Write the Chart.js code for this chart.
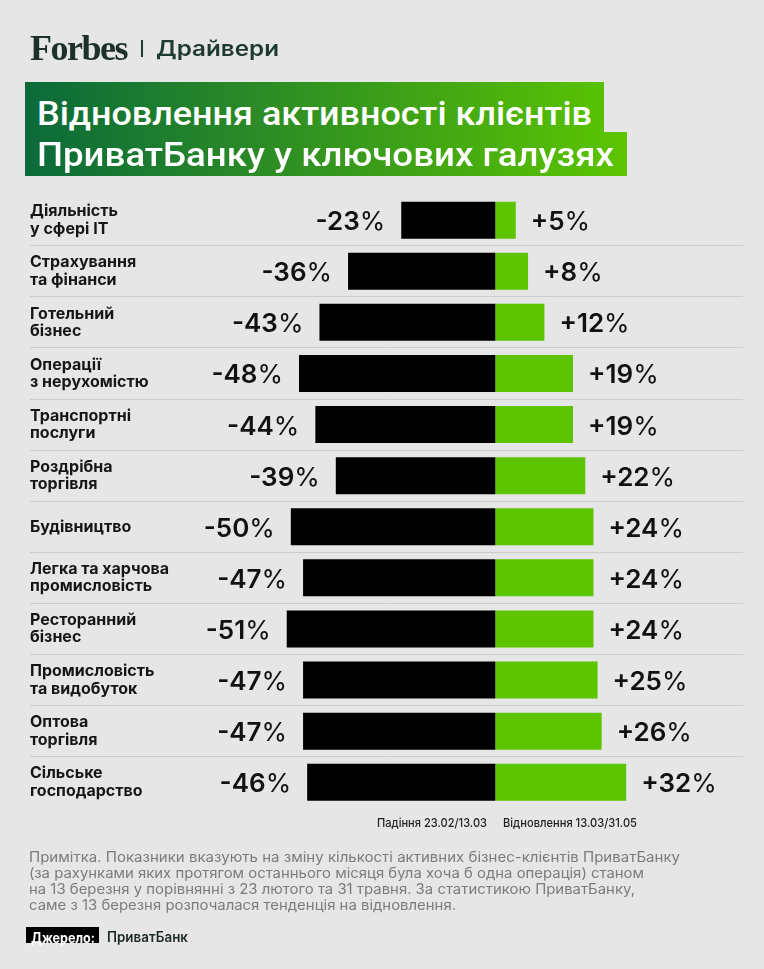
<!DOCTYPE html>
<html lang="uk">
<head>
<meta charset="utf-8">
<title>Відновлення активності клієнтів ПриватБанку</title>
<script src="https://cdn.jsdelivr.net/npm/chart.js@4.4.1/dist/chart.umd.min.js"></script>
<style>
  html, body { margin: 0; padding: 0; background: #e6e6e6; }
  #page { position: relative; width: 764px; height: 969px; overflow: hidden; background: #e6e6e6; }
  #chartBox { position: absolute; left: 0; top: 0; width: 764px; height: 969px; }
  .t { position: absolute; white-space: nowrap; line-height: 1; transform-origin: 0 0; display: inline-block; }
  .box { position: absolute; background: linear-gradient(90deg, #0b6a3a 0%, #2c8c25 40%, #5cc500 100%); background-size: 602px 100%; background-repeat: no-repeat; }
</style>
</head>
<body>
<div id="page">
  <div id="chartBox"><canvas id="bars"></canvas></div>

  <div class="t" style="left:30px;top:26.5px;font:bold 36px 'Liberation Serif';letter-spacing:-1.5px;color:#1d3128" data-w="97">Forbes</div>
  <div style="position:absolute;left:141px;top:40px;width:2px;height:17px;background:#1f3a30"></div>
  <div class="t" style="left:156px;top:35.5px;font:600 21px Inter;color:#1f3a30" data-w="123">Драйвери</div>

  <div class="box" style="left:25px;top:82px;width:579px;height:50px"></div>
  <div class="box" style="left:25px;top:131.5px;width:602px;height:44.5px"></div>
  <div class="t" style="left:37px;top:93px;font:500 34px Roboto;color:#fff" data-w="555">Відновлення активності клієнтів</div>
  <div class="t" style="left:37px;top:133.5px;font:500 34px Roboto;color:#fff" data-w="577">ПриватБанку у ключових галузях</div>

  <div class="t" style="left:377px;top:814.5px;font:500 12px Inter;color:#222" data-w="110">Падіння 23.02/13.03</div>
  <div class="t" style="left:503px;top:814.5px;font:500 12px Inter;color:#222" data-w="134">Відновлення 13.03/31.05</div>

  <div class="t" style="left:28.5px;top:848px;font:14px Inter;color:#7b7b7b" data-w="651">Примітка. Показники вказують на зміну кількості активних бізнес-клієнтів ПриватБанку</div>
  <div class="t" style="left:28.5px;top:864px;font:14px Inter;color:#7b7b7b" data-w="615">(за рахунками яких протягом останнього місяця була хоча б одна операція) станом</div>
  <div class="t" style="left:28.5px;top:880px;font:14px Inter;color:#7b7b7b" data-w="606">на 13 березня у порівнянні з 23 лютого та 31 травня. За статистикою ПриватБанку,</div>
  <div class="t" style="left:28.5px;top:895.5px;font:14px Inter;color:#7b7b7b" data-w="427">саме з 13 березня розпочалася тенденція на відновлення.</div>

  <div style="position:absolute;left:26px;top:926.5px;width:73px;height:16.5px;background:#000"></div>
  <div class="t" style="left:31px;top:928.5px;font:bold 14px Inter;color:#fff" data-w="64">Джерело:</div>
  <div class="t" style="left:107px;top:928px;font:600 14px Inter;color:#1c2a22" data-w="81">ПриватБанк</div>
</div>

<script>
// industries, two-line labels
const categories = [
  ['Діяльність', 'у сфері IT'],
  ['Страхування', 'та фінанси'],
  ['Готельний', 'бізнес'],
  ['Операції', 'з нерухомістю'],
  ['Транспортні', 'послуги'],
  ['Роздрібна', 'торгівля'],
  ['Будівництво'],
  ['Легка та харчова', 'промисловість'],
  ['Ресторанний', 'бізнес'],
  ['Промисловість', 'та видобуток'],
  ['Оптова', 'торгівля'],
  ['Сільське', 'господарство']
];
// % change 23.02 -> 13.03
const declineValues = [-23, -36, -43, -48, -44, -39, -50, -47, -51, -47, -47, -46];
// % change 13.03 -> 31.05
const recoveryValues = [5, 8, 12, 19, 19, 22, 24, 24, 24, 25, 26, 32];

const seriesNames = ['Падіння 23.02/13.03', 'Відновлення 13.03/31.05'];

// fit html texts to measured widths
function fitTexts() {
  document.querySelectorAll('[data-w]').forEach(el => {
    el.style.transform = 'none';
    const w = el.getBoundingClientRect().width;
    const target = parseFloat(el.dataset.w);
    if (w > 0) el.style.transform = 'scaleX(' + (target / w) + ')';
  });
}

const valueLabels = {
  id: 'valueLabels',
  afterDatasetsDraw(chart) {
    const ctx = chart.ctx;
    ctx.save();
    ctx.fillStyle = '#111';
    ctx.textBaseline = 'alphabetic';
    chart.data.datasets.forEach((ds, di) => {
      const meta = chart.getDatasetMeta(di);
      meta.data.forEach((bar, i) => {
        const v = ds.data[i];
        const num = (v > 0 ? '+' : '') + v;
        ctx.font = '600 26px Inter';
        const wNum = ctx.measureText(num).width;
        ctx.font = '400 26px Inter';
        const wPct = ctx.measureText('%').width;
        const y = bar.y + 10;
        let x = v < 0 ? bar.x - 16 - (wNum + wPct) : bar.x + 15;
        ctx.font = '600 26px Inter';
        ctx.fillText(num, x, y);
        ctx.font = '400 26px Inter';
        ctx.fillText('%', x + wNum, y);
      });
    });
    ctx.restore();
  }
};

function build() {
  new Chart(document.getElementById('bars'), {
    type: 'bar',
    data: {
      labels: categories,
      datasets: [
        { label: seriesNames[0], data: declineValues, backgroundColor: '#000000', stack: 's' },
        { label: seriesNames[1], data: recoveryValues, backgroundColor: '#5cc500', stack: 's' }
      ]
    },
    options: {
      indexAxis: 'y',
      responsive: true,
      maintainAspectRatio: false,
      animation: false,
      barPercentage: 0.724,
      categoryPercentage: 1,
      layout: { padding: { left: 30, right: 21, top: 194.6, bottom: 161.2 } },
      plugins: { legend: { display: false }, tooltip: { enabled: false } },
      scales: {
        x: { display: false, stacked: true, min: -113.77, max: 60.56 },
        y: {
          stacked: true,
          border: { display: false },
          grid: {
            drawTicks: false,
            lineWidth: 1,
            color: c => (c.index === undefined || c.index === 0) ? 'rgba(0,0,0,0)' : '#cdcdcd'
          },
          ticks: {
            mirror: true,
            padding: 0,
            crossAlign: 'near',
            color: '#151515',
            font: { family: 'Inter', size: 16, weight: '700', lineHeight: 1.08 }
          }
        }
      }
    },
    plugins: [valueLabels]
  });
}

fitTexts();
document.fonts.ready.then(() => { fitTexts(); build(); });
</script>
</body>
</html>
